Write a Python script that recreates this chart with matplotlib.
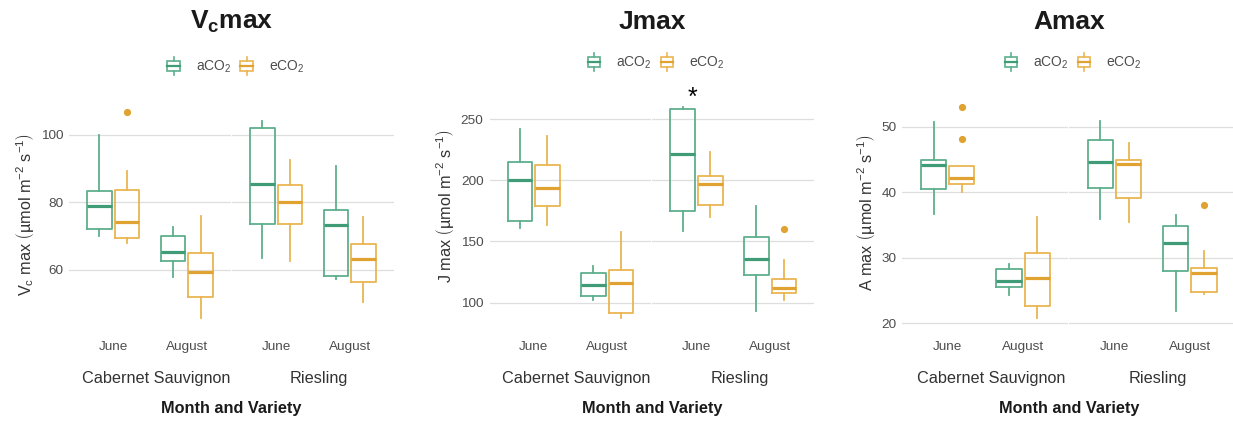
import matplotlib
matplotlib.use("Agg")
import matplotlib.pyplot as plt
from matplotlib.patches import Rectangle
from matplotlib.lines import Line2D
from matplotlib.legend_handler import HandlerBase

plt.rcParams["font.family"] = ["Liberation Sans", "DejaVu Sans"]
plt.rcParams["mathtext.fontset"] = "custom"
plt.rcParams["mathtext.rm"] = "Liberation Sans"
plt.rcParams["mathtext.it"] = "Liberation Sans:italic"
plt.rcParams["mathtext.bf"] = "Liberation Sans:bold"

# ---------------------------------------------------------------------------
# Data: five-number summaries per box, ordered as
# (Cabernet Sauvignon: June aCO2, June eCO2, August aCO2, August eCO2,
#  Riesling:           June aCO2, June eCO2, August aCO2, August eCO2)
# ---------------------------------------------------------------------------
varieties = ["Cabernet Sauvignon", "Riesling"]
months = ["June", "August"]
treatments = ["aCO$_\\mathregular{2}$", "eCO$_\\mathregular{2}$"]

vc_whislo = [69.9, 67.9, 57.9, 45.5, 63.5, 62.4, 57.3, 50.4]
vc_q1 = [72.1, 69.3, 62.5, 51.9, 73.5, 73.5, 58.1, 56.3]
vc_med = [78.8, 74.0, 65.3, 59.2, 85.3, 80.1, 73.1, 63.2]
vc_q3 = [83.3, 83.6, 69.8, 64.9, 101.8, 85.1, 77.5, 67.6]
vc_whishi = [99.8, 89.3, 72.5, 75.9, 104.1, 92.4, 90.7, 75.5]
vc_out = [[], [106.7], [], [], [], [], [], []]

j_whislo = [160.7, 163.4, 101.9, 87.4, 158.5, 169.7, 93.1, 102.1]
j_q1 = [167.0, 178.7, 105.4, 91.2, 174.6, 179.5, 122.8, 107.6]
j_med = [200.0, 193.7, 114.6, 115.8, 221.5, 197.0, 135.9, 111.7]
j_q3 = [214.7, 212.8, 124.4, 126.9, 258.6, 203.8, 153.9, 119.3]
j_whishi = [241.7, 236.2, 130.2, 158.0, 259.7, 223.1, 179.3, 134.8]
j_out = [[], [], [], [], [], [], [], [160.2]]

a_whislo = [36.7, 40.1, 24.3, 20.8, 35.9, 35.5, 21.9, 24.5]
a_q1 = [40.5, 41.2, 25.6, 22.6, 40.7, 39.1, 28.0, 24.8]
a_med = [44.1, 42.2, 26.5, 27.0, 44.7, 44.3, 32.2, 27.7]
a_q3 = [45.0, 44.0, 28.3, 30.7, 48.0, 44.9, 34.8, 28.5]
a_whishi = [50.8, 44.0, 29.0, 36.3, 50.9, 47.6, 36.5, 31.1]
a_out = [[], [53.0, 48.1], [], [], [], [], [], [38.0]]

# significance marker: (variety, month, height)
j_star = ("Riesling", "June", 262)

vc_ticks = [60, 80, 100]
j_ticks = [100, 150, 200, 250]
a_ticks = [20, 30, 40, 50]

# ---------------------------------------------------------------------------
edge_cols = ["#5EAF8D", "#EAB552"]
med_cols = ["#3F9C76", "#E0A332"]
text_grey = "#4D4D4D"
title_grey = "#333333"

W, H = 1233, 421
fig = plt.figure(figsize=(W / 100, H / 100), dpi=100)


def fx(x):
    return x / W


def fy(y):
    return 1 - y / H


def px_axes(left, top, right, bottom):
    return fig.add_axes([fx(left), fy(bottom), (right - left) / W, (bottom - top) / H])


class BoxKey(HandlerBase):
    """Legend key drawn as a miniature box-and-whisker glyph."""

    def create_artists(self, legend, orig_handle, xdescent, ydescent,
                       width, height, fontsize, trans):
        c = orig_handle.get_color()
        mc = orig_handle.get_markeredgecolor()
        x0, y0 = -xdescent, -ydescent
        rect = Rectangle((x0, y0 + 0.2 * height), width, 0.6 * height,
                         fill=False, ec=c, lw=1.2, transform=trans)
        med = Line2D([x0, x0 + width], [y0 + 0.5 * height] * 2, color=mc,
                     lw=1.6, transform=trans)
        wt = Line2D([x0 + width / 2] * 2, [y0 + 0.8 * height, y0 + height],
                    color=c, lw=1.2, transform=trans)
        wb = Line2D([x0 + width / 2] * 2, [y0, y0 + 0.2 * height],
                    color=c, lw=1.2, transform=trans)
        return [rect, med, wt, wb]


panels = [
    dict(stats=(vc_whislo, vc_q1, vc_med, vc_q3, vc_whishi, vc_out),
         ticks=vc_ticks, ylim=(42.37, 109.93), left=69, unit=73.6, top=101,
         bottom=329, title=r"V$_\mathbf{c}$max",
         ylabel=r"V$_\mathregular{c}$ max $\left(\mathregular{µmol\ m^{-2}\ s^{-1}}\right)$",
         ylab_x=25, leg_y=66, star=None),
    dict(stats=(j_whislo, j_q1, j_med, j_q3, j_whishi, j_out),
         ticks=j_ticks, ylim=(78.4, 279.6), left=489.5, unit=73.6, top=83,
         bottom=329, title="Jmax",
         ylabel=r"J max $\left(\mathregular{µmol\ m^{-2}\ s^{-1}}\right)$",
         ylab_x=445, leg_y=62, star=j_star),
    dict(stats=(a_whislo, a_q1, a_med, a_q3, a_whishi, a_out),
         ticks=a_ticks, ylim=(19.15, 54.7), left=902.4, unit=75.4, top=96,
         bottom=329, title="Amax",
         ylabel=r"A max $\left(\mathregular{µmol\ m^{-2}\ s^{-1}}\right)$",
         ylab_x=866, leg_y=62, star=None),
]

for p in panels:
    whislo, q1, med, q3, whishi, out = p["stats"]
    width = 2.2 * p["unit"]
    left = p["left"]
    right = left + 2 * width + 1
    center = (left + right) / 2
    for f, var in enumerate(varieties):
        fl = left + f * (width + 1)
        ax = px_axes(fl, p["top"], fl + width, p["bottom"])
        ax.set_xlim(0.4, 2.6)
        ax.set_ylim(*p["ylim"])
        for m_i, month in enumerate(months):
            for t_i in range(len(treatments)):
                i = f * 4 + m_i * 2 + t_i
                pos = m_i + 1 + (t_i - 0.5) * 0.375
                st = dict(med=med[i], q1=q1[i], q3=q3[i], whislo=whislo[i],
                          whishi=whishi[i], fliers=out[i])
                ec = edge_cols[t_i]
                ax.bxp([st], positions=[pos], widths=0.335, showcaps=False,
                       boxprops=dict(color=ec, lw=1.3),
                       whiskerprops=dict(color=ec, lw=1.3),
                       medianprops=dict(color=med_cols[t_i], lw=2.3),
                       flierprops=dict(marker="o", markerfacecolor=med_cols[t_i],
                                       markeredgecolor="none", markersize=5.2),
                       manage_ticks=False)
        if p["star"] is not None and p["star"][0] == var:
            ax.text(months.index(p["star"][1]) + 0.95, p["star"][2], "*",
                    ha="center", va="baseline", fontsize=18, color="black",
                    clip_on=False)
        ax.set_yticks(p["ticks"])
        ax.set_xticks([1, 2])
        ax.set_xticklabels(months)
        ax.yaxis.grid(True, color="#DEDEDE", lw=0.9)
        ax.set_axisbelow(True)
        for s in ax.spines.values():
            s.set_visible(False)
        ax.tick_params(length=0, labelsize=9.7, labelcolor=text_grey)
        ax.tick_params(axis="x", pad=8.5)
        ax.tick_params(axis="y", pad=4.3)
        if f == 1:
            ax.set_yticklabels([])
        fig.text(fx((fl + fl + width) / 2 + 6), fy(378), var, ha="center",
                 va="center", fontsize=11.7, color=title_grey)

    fig.text(fx(center), fy(29), p["title"], ha="center", va="baseline",
             fontsize=19, fontweight="bold", color="#1A1A1A")
    fig.text(fx(p["ylab_x"]), fy((p["top"] + p["bottom"]) / 2), p["ylabel"],
             rotation=90, ha="center", va="center", fontsize=11.7,
             color=title_grey)
    fig.text(fx(center), fy(408), "Month and Variety", ha="center",
             va="center", fontsize=11.7, fontweight="bold", color="#1A1A1A")

    handles = [Line2D([], [], color=edge_cols[k], markeredgecolor=med_cols[k])
               for k in range(len(treatments))]
    fig.legend(handles, treatments, handler_map={Line2D: BoxKey()},
               loc="center", bbox_to_anchor=(fx(center + 4.5), fy(p["leg_y"])),
               ncol=2, frameon=False, fontsize=10, labelcolor=text_grey,
               handlelength=0.9, handleheight=1.6, handletextpad=1.15,
               columnspacing=0.65, borderpad=0, borderaxespad=0)

fig.savefig("out.png", dpi=100)
